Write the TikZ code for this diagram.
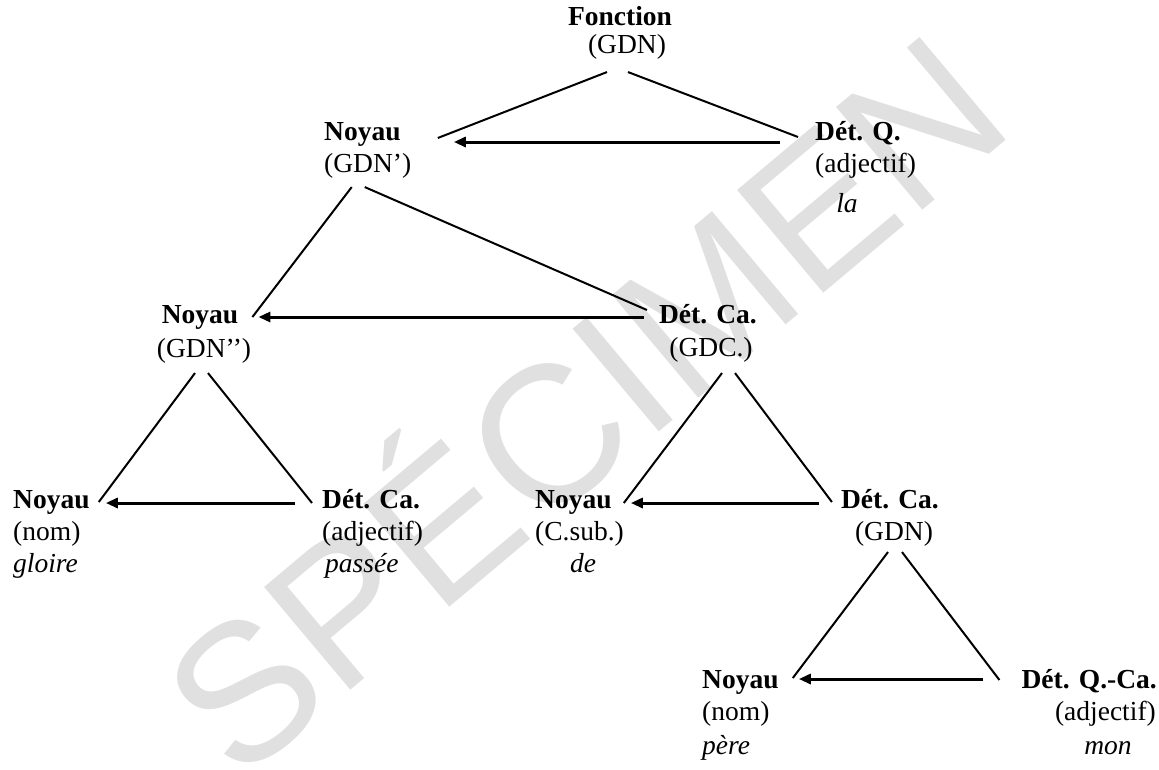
\documentclass[tikz,border=0pt]{standalone}
\usepackage{fontspec}
\setmainfont{Liberation Serif}
\setsansfont{Liberation Sans}
\usepackage{xcolor}
\usepackage{tikz}
\usetikzlibrary{arrows.meta}

\begin{document}
\fontsize{27.5}{32}\selectfont
\begin{tikzpicture}[
    x=1pt, y=-1pt,
    >={Triangle[length=12pt,width=10pt]},
    tete/.style={font=\bfseries, inner sep=0pt},
    cat/.style={inner sep=0pt},
    mot/.style={font=\itshape, inner sep=0pt},
    trait/.style={line width=2pt},
    fleche/.style={->, line width=3pt}
]
    \useasboundingbox (0,0) rectangle (1159,769);
    \node[rotate=40, text=black!12, inner sep=0pt,
          font=\sffamily\fontsize{195}{195}\selectfont] (filigrane) at (575,393) {SPÉCIMEN};

    \node[tete, anchor=base] (fonc) at (620,25) {Fonction};
    \node[cat,  anchor=base] (gdn0) at (627,53) {(GDN)};

    \node[tete, anchor=base west] (noyA) at (324,140) {Noyau};
    \node[cat,  anchor=base west] (gdnA) at (324,172) {(GDN')};
    \node[tete, anchor=base west] (detQ) at (815,140) {Dét. Q.};
    \node[cat,  anchor=base west] (adjQ) at (815,172) {(adjectif)};
    \node[mot,  anchor=base] (la) at (847,212) {la};

    \node[tete, anchor=base] (noyB) at (200,323) {Noyau};
    \node[cat,  anchor=base] (gdnB) at (204,357) {(GDN'{}')};
    \node[tete, anchor=base] (detC) at (708,323) {Dét. Ca.};
    \node[cat,  anchor=base] (gdcC) at (711,356) {(GDC.)};

    \node[tete, anchor=base west] (noyD) at (13,508) {Noyau};
    \node[cat,  anchor=base west] (nomD) at (13,540) {(nom)};
    \node[mot,  anchor=base west] (gloire) at (13,572) {gloire};
    \node[tete, anchor=base west] (detE) at (322,508) {Dét. Ca.};
    \node[cat,  anchor=base west] (adjE) at (322,540) {(adjectif)};
    \node[mot,  anchor=base west] (passee) at (325,572) {passée};

    \node[tete, anchor=base west] (noyF) at (535,508) {Noyau};
    \node[cat,  anchor=base west] (csubF) at (535,540) {(C.sub.)};
    \node[mot,  anchor=base] (de) at (583,572) {de};
    \node[tete, anchor=base] (detG) at (890,508) {Dét. Ca.};
    \node[cat,  anchor=base] (gdnG) at (894,540) {(GDN)};

    \node[tete, anchor=base west] (noyH) at (702,688) {Noyau};
    \node[cat,  anchor=base west] (nomH) at (702,720) {(nom)};
    \node[mot,  anchor=base west] (pere) at (702,754) {père};
    \node[tete, anchor=base east] (detI) at (1157,688) {Dét. Q.-Ca.};
    \node[cat,  anchor=base east] (adjI) at (1156,720) {(adjectif)};
    \node[mot,  anchor=base] (mon) at (1108,754) {mon};

    \draw[trait] ([xshift=-20pt,yshift=-13pt]gdn0.south) -- ([xshift=37pt,yshift=2pt]noyA.base east);
    \draw[trait] ([xshift=1pt,yshift=-13pt]gdn0.south) -- ([xshift=-17pt,yshift=3pt]detQ.base west);
    \draw[fleche] ([xshift=-35pt,yshift=-2pt]detQ.base west) -- ([xshift=53pt,yshift=-2pt]noyA.base east);

    \draw[trait] ([xshift=-16pt,yshift=-9pt]gdnA.south) -- ([xshift=14pt,yshift=6pt]noyB.base east);
    \draw[trait] ([xshift=-3pt,yshift=-9pt]gdnA.south) -- ([xshift=-12pt,yshift=13pt]detC.base west);
    \draw[fleche] ([xshift=-15pt,yshift=6pt]detC.base west) -- ([xshift=20pt,yshift=6pt]noyB.base east);

    \draw[trait] ([xshift=-9pt,yshift=-10pt]gdnB.south) -- ([xshift=9pt,yshift=6pt]noyD.base east);
    \draw[trait] ([xshift=4pt,yshift=-10pt]gdnB.south) -- ([xshift=-10pt,yshift=5pt]detE.base west);
    \draw[fleche] ([xshift=-27pt,yshift=5pt]detE.base west) -- ([xshift=16pt,yshift=5pt]noyD.base east);

    \draw[trait] ([xshift=11pt,yshift=-11pt]gdcC.south) -- ([xshift=12pt,yshift=5pt]noyF.base east);
    \draw[trait] ([xshift=24pt,yshift=-11pt]gdcC.south) -- ([xshift=-9pt,yshift=6pt]detG.base west);
    \draw[fleche] ([xshift=-22pt,yshift=5pt]detG.base west) -- ([xshift=19pt,yshift=5pt]noyF.base east);

    \draw[trait] ([xshift=-6pt,yshift=-6pt]gdnG.south) -- ([xshift=14pt,yshift=10pt]noyH.base east);
    \draw[trait] ([xshift=8pt,yshift=-6pt]gdnG.south) -- ([xshift=-22pt,yshift=8pt]detI.base west);
    \draw[fleche] ([xshift=-38pt,yshift=9pt]detI.base west) -- ([xshift=20pt,yshift=9pt]noyH.base east);
\end{tikzpicture}
\end{document}
